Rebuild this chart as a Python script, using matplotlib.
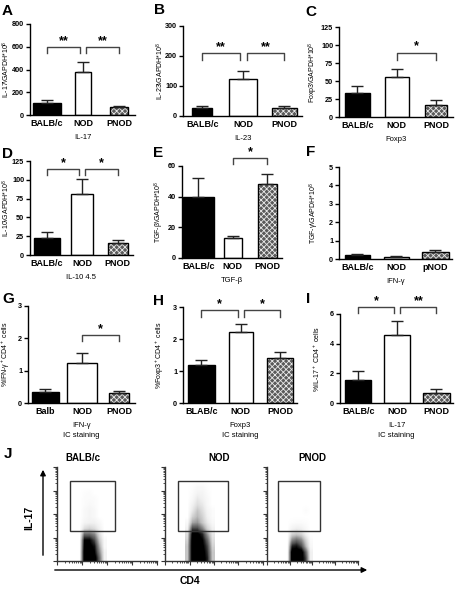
import numpy as np
import matplotlib.pyplot as plt
from matplotlib.patches import Rectangle

plt.rcParams['font.family'] = ['Liberation Sans', 'DejaVu Sans']
plt.rcParams['font.weight'] = 'bold'
plt.rcParams['mathtext.default'] = 'regular'
plt.rcParams['hatch.linewidth'] = 0.6

# ---- data ----
groups = ['BALB/c', 'NOD', 'PNOD']
groups_f = ['BALB/c', 'NOD', 'pNOD']
groups_g = ['Balb', 'NOD', 'PNOD']
groups_h = ['BLAB/c', 'NOD', 'PNOD']

il17_mean = [105, 382, 70]
il17_err = [29, 88, 12]
il23_mean = [28, 122, 28]
il23_err = [6, 28, 6]
foxp3_mean = [33.6, 55, 17]
foxp3_err = [9.5, 12, 6]
il10_mean = [22, 81.5, 16]
il10_err = [8.6, 20, 3.5]
tgfb_mean = [40, 13.3, 48]
tgfb_err = [12.4, 1.0, 6.6]
ifng_mean = [0.23, 0.1, 0.36]
ifng_err = [0.04, 0.04, 0.14]
ic_ifng_mean = [0.34, 1.23, 0.31]
ic_ifng_err = [0.10, 0.33, 0.07]
ic_foxp3_mean = [1.2, 2.21, 1.41]
ic_foxp3_err = [0.15, 0.27, 0.18]
ic_il17_mean = [1.57, 4.56, 0.67]
ic_il17_err = [0.61, 0.94, 0.27]

# flow cytometry dot density (rows: IL-17 decade bins of 0.25 from 0 up,
# cols: CD4 decade bins of 0.2 from 0.8 to 2.0), estimated from the dot plots
flow_titles = ['BALB/c', 'NOD', 'PNOD']
flow_pct = ['1.9%', '4.6%', '0.6%']
dens_balb = [
    [0, 1, 1, 1, .6, .1],
    [0, 1, 1, .9, .5, .1],
    [0, .95, .95, .85, .4, .05],
    [0, .9, .9, .7, .3, .05],
    [0, .6, .6, .5, .2, 0],
    [0, .2, .25, .2, .1, 0],
    [0, .08, .1, .1, .05, 0],
    [0, .05, .08, .05, 0, 0],
    [0, .05, .08, .05, 0, 0],
    [0, .03, .05, .03, 0, 0],
    [0, .03, .03, .03, 0, 0],
    [0, .02, .03, 0, 0, 0],
    [0, 0, 0, 0, 0, 0],
    [0, 0, 0, 0, 0, 0],
]
dens_nod = [
    [.3, 1, 1, 1, .8, .3],
    [.3, 1, 1, 1, .75, .3],
    [.3, 1, 1, .95, .7, .25],
    [.25, 1, 1, .9, .6, .2],
    [.2, .95, .95, .8, .45, .15],
    [.1, .7, .7, .5, .25, .1],
    [.05, .4, .45, .3, .15, .05],
    [0, .25, .35, .25, .1, .03],
    [0, .15, .3, .2, .08, .03],
    [0, .1, .2, .15, .05, 0],
    [0, .05, .15, .1, .05, 0],
    [0, .03, .08, .08, .03, 0],
    [0, .02, .05, .05, .02, 0],
    [0, 0, 0, 0, 0, 0],
]
dens_pnod = [
    [0, 1, 1, 1, .7, .1],
    [0, 1, 1, 1, .6, .1],
    [0, .8, .85, .7, .35, .05],
    [0, .5, .6, .5, .25, .03],
    [0, .25, .3, .25, .1, 0],
    [0, .08, .12, .1, .05, 0],
    [0, .02, .03, .03, .02, 0],
    [0, 0, 0, 0, 0, 0],
    [0, 0, 0, 0, .03, 0],
    [0, 0, 0, 0, 0, 0],
    [0, 0, 0, 0, 0, 0],
    [0, 0, 0, 0, 0, 0],
    [0, 0, 0, 0, 0, 0],
    [0, 0, 0, 0, 0, 0],
]

W, H = 456, 589
fig = plt.figure(figsize=(W / 100, H / 100), dpi=100)
canvas = fig.add_axes([0, 0, 1, 1])
canvas.set_xlim(0, W)
canvas.set_ylim(H, 0)
canvas.axis('off')


def box(left, top, right, bottom):
    return [left / W, 1 - bottom / H, (right - left) / W, (bottom - top) / H]


def bar_panel(rect, labels, means, errs, widths, ylim, yticks, ylabel, xlabel,
              letter, letter_xy, brackets, label_px):
    left, top, right, bottom = rect
    ax = fig.add_axes(box(*rect))
    x = np.arange(3)
    ax.bar(x[0], means[0], width=widths[0], color='black', edgecolor='black', lw=1)
    ax.bar(x[1], means[1], width=widths[1], color='white', edgecolor='black', lw=1)
    ax.bar(x[2], means[2], width=widths[2], color='#5a5a5a', edgecolor='#e8e8e8',
           lw=0, hatch='xxxxxx')
    ax.bar(x[2], means[2], width=widths[2], color='none', edgecolor='black', lw=1)
    ax.errorbar(x, means, yerr=[[0, 0, 0], errs], fmt='none', ecolor='#222222',
                elinewidth=1, capsize=4, capthick=1)
    ax.set_xlim(-0.47, 2.43)
    ax.set_ylim(*ylim)
    ax.set_yticks(yticks)
    ax.set_xticks(x)
    ax.set_xticklabels(labels, fontsize=6.5)
    ax.tick_params(axis='x', length=0, pad=3)
    ax.tick_params(axis='y', length=3, width=1, labelsize=5.2, pad=1.2)
    for s in ['top', 'right']:
        ax.spines[s].set_visible(False)
    for s in ['left', 'bottom']:
        ax.spines[s].set_linewidth(1)
    ax.set_ylabel(ylabel, fontsize=5)
    ax.yaxis.set_label_coords((label_px - left) / (right - left), 0.5)
    ax.set_xlabel(xlabel, fontsize=5.5, labelpad=4, linespacing=1.6)
    for x1, x2, y, h, txt in brackets:
        ax.plot([x1, x1, x2, x2], [y - h, y, y, y - h], color='#444444', lw=1,
                clip_on=False)
        ax.text((x1 + x2) / 2, y, txt, ha='center', va='bottom', fontsize=9)
    canvas.text(letter_xy[0], letter_xy[1], letter, fontsize=11, ha='left',
                va='bottom')
    return ax


bar_panel((30, 24, 135, 115), groups, il17_mean, il17_err, [0.8, 0.45, 0.5],
          (0, 800), range(0, 801, 200), 'IL-17\\GAPDH*10$^8$', 'IL-17', 'A', (2, 18),
          [(0, 0.92, 596, 53, '**'), (1.08, 2, 596, 53, '**')], 12)
bar_panel((183, 26, 302, 116), groups, il23_mean, il23_err, [0.49, 0.68, 0.61],
          (0, 300), range(0, 301, 100), 'IL-23\\GAPDH*10$^8$', 'IL-23', 'B', (154, 17),
          [(0, 0.92, 210, 22, '**'), (1.08, 2, 210, 22, '**')], 166)
bar_panel((339, 27, 453, 117), groups, foxp3_mean, foxp3_err, [0.66, 0.61, 0.56],
          (0, 125), range(0, 126, 25), 'Foxp3\\GAPDH*10$^8$', 'Foxp3', 'C', (305, 19),
          [(1, 2, 89.5, 10.5, '*')], 320)
bar_panel((30, 161, 133, 255), groups, il10_mean, il10_err, [0.73, 0.62, 0.56],
          (0, 125), range(0, 126, 25), 'IL-10\\GAPDH*10$^8$', 'IL-10 4.5', 'D', (2, 161),
          [(0, 0.92, 114, 7, '*'), (1.08, 2, 114, 7, '*')], 12)
bar_panel((182, 166, 282, 258), groups, tgfb_mean, tgfb_err, [0.9, 0.52, 0.55],
          (0, 60), range(0, 61, 20), 'TGF-\u03b2\\GAPDH*10$^8$', 'TGF-\u03b2', 'E', (153, 160),
          [(1, 2, 65.4, 4, '*')], 166)
bar_panel((339, 167, 452, 259), groups_f, ifng_mean, ifng_err, [0.64, 0.64, 0.69],
          (0, 5), range(0, 6), 'TGF-\u03b3\\GAPDH*10$^8$', 'IFN-\u03b3', 'F', (306, 159),
          [], 321)
bar_panel((28, 306, 135, 403), groups_g, ic_ifng_mean, ic_ifng_err, [0.73, 0.81, 0.54],
          (0, 3), range(0, 4), '%IFN-\u03b3$^+$CD4$^+$ cells', 'IFN-\u03b3\nIC staining',
          'G', (2, 306), [(1, 2, 2.1, 0.18, '*')], 12)
bar_panel((183, 307, 297, 403), groups_h, ic_foxp3_mean, ic_foxp3_err, [0.71, 0.61, 0.66],
          (0, 3), range(0, 4), '%Foxp3$^+$CD4$^+$ cells', 'Foxp3\nIC staining',
          'H', (153, 308), [(0, 0.92, 2.9, 0.21, '*'), (1.08, 2, 2.9, 0.21, '*')], 166)
bar_panel((340, 314, 453, 403), groups, ic_il17_mean, ic_il17_err, [0.67, 0.67, 0.69],
          (0, 6), range(0, 7, 2), '%IL-17$^+$ CD4$^+$ cells', 'IL-17\nIC staining',
          'I', (306, 306), [(0, 0.92, 6.45, 0.38, '*'), (1.08, 2, 6.45, 0.38, '**')], 322)

# ---- panel J: flow cytometry ----
flow_rects = [(57, 467, 157, 561), (165, 467, 263, 561), (267, 467, 358, 561)]
flow_gates = [(0.52, 1.28, 2.32, 3.40), (0.53, 1.28, 2.57, 3.40), (0.49, 1.28, 2.31, 3.40)]
title_x = [83, 219, 312]
pct_x = [120, 223, 323]
minor = [d + np.log10(k) for d in range(4) for k in range(2, 10)]

for rect, dens, gate, title, pct, tx, px in zip(flow_rects, [dens_balb, dens_nod, dens_pnod],
                                                 flow_gates, flow_titles, flow_pct,
                                                 title_x, pct_x):
    ax = fig.add_axes(box(*rect))
    ax.imshow(np.array(dens), extent=(0.8, 2.0, 0, 3.5), origin='lower',
              cmap='Greys', vmin=0, vmax=0.9, interpolation='bilinear', aspect='auto')
    x0, y0, x1, y1 = gate
    ax.add_patch(Rectangle((x0, y0), x1 - x0, y1 - y0, fill=False,
                           edgecolor='#333333', lw=1))
    ax.set_xlim(0, 4)
    ax.set_ylim(0, 4)
    ax.set_xticks(range(5))
    ax.set_yticks(range(5))
    ax.set_xticks(minor, minor=True)
    ax.set_yticks(minor, minor=True)
    ax.set_xticklabels([])
    ax.set_yticklabels([])
    ax.tick_params(which='major', length=3, width=0.8, color='#333333')
    ax.tick_params(which='minor', length=1.5, width=0.6, color='#333333')
    for s in ['top', 'right']:
        ax.spines[s].set_visible(False)
    for s in ['left', 'bottom']:
        ax.spines[s].set_linewidth(1)
        ax.spines[s].set_color('#333333')
    canvas.text(tx, 458, title, fontsize=7, ha='center', va='center')
    canvas.text(px, 503, pct, fontsize=7.5, ha='left', va='center')

canvas.text(4, 461, 'J', fontsize=11, ha='left', va='bottom')
canvas.annotate('', xy=(43, 467), xytext=(43, 558),
                arrowprops=dict(arrowstyle='-|>', color='black', lw=1,
                                mutation_scale=8))
canvas.annotate('', xy=(370, 570), xytext=(52, 570),
                arrowprops=dict(arrowstyle='-|>', color='black', lw=1,
                                mutation_scale=8))
canvas.text(29, 518, 'IL-17', fontsize=7.5, rotation=90, ha='center', va='center')
canvas.text(190, 581, 'CD4', fontsize=7.5, ha='center', va='center')

fig.savefig('out.png', dpi=100)
